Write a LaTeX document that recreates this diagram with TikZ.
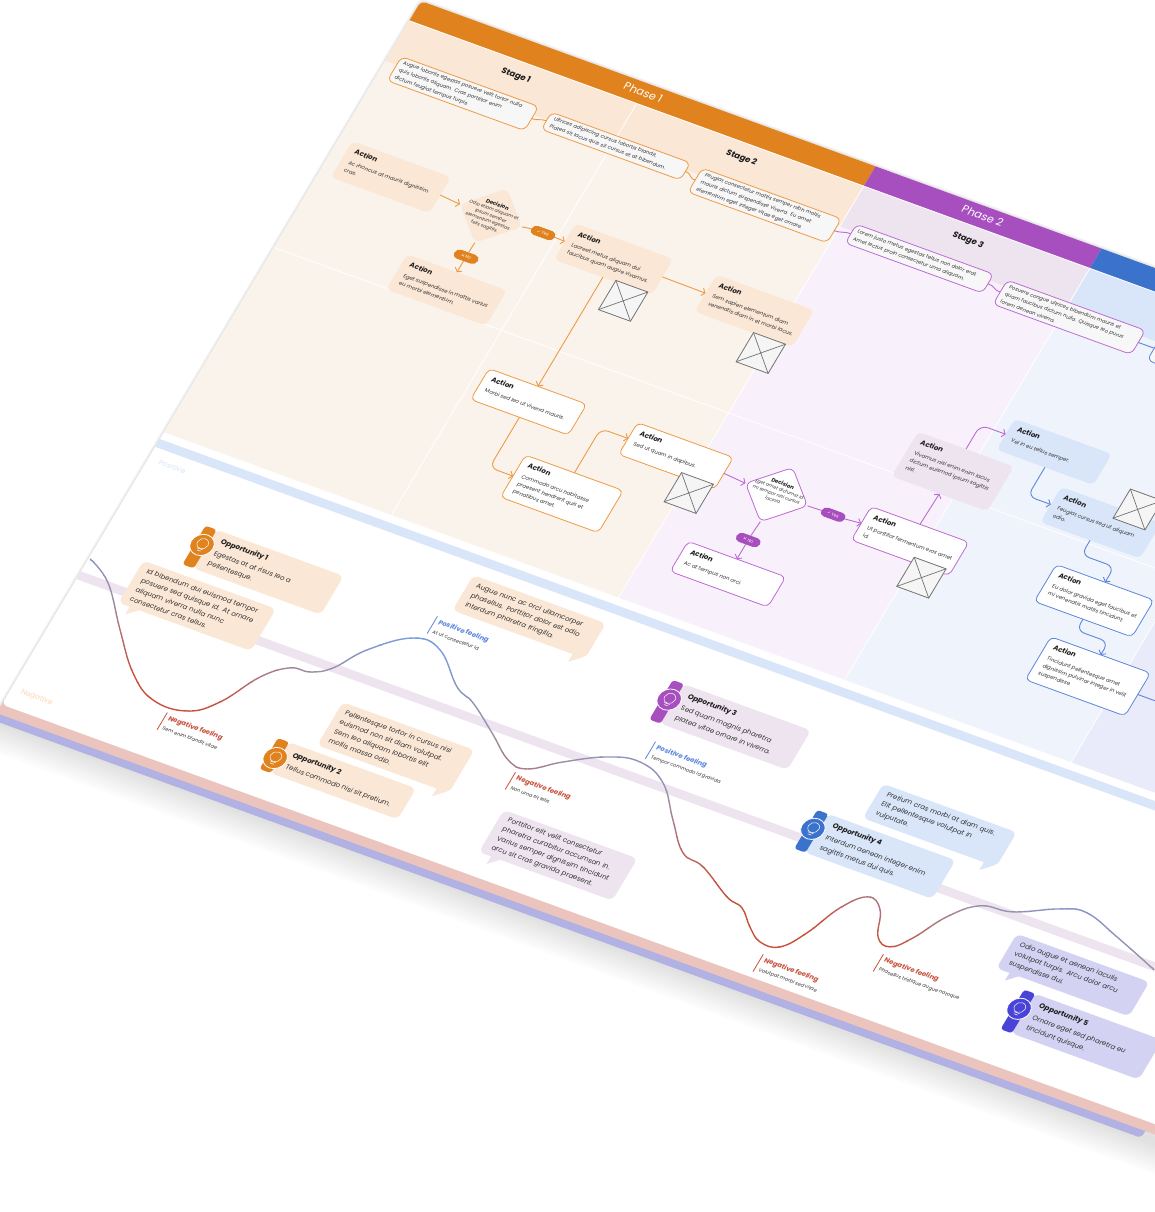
\documentclass[tikz,border=0pt]{standalone}
\usepackage{fontspec}
\setmainfont{Poppins}
\newfontfamily\symfont{DejaVu Sans}
\usetikzlibrary{shapes.geometric,arrows.meta}

\definecolor{orangebar}{HTML}{E0831F}
\definecolor{orangehead}{HTML}{FBE7D5}
\definecolor{orangebody}{HTML}{FAF3EB}
\definecolor{orangeline}{HTML}{EE9A45}
\definecolor{purplebar}{HTML}{A84FC0}
\definecolor{purplehead}{HTML}{EEE4EF}
\definecolor{purplebody}{HTML}{F8F1FC}
\definecolor{purpleline}{HTML}{BC6BD2}
\definecolor{bluebar}{HTML}{3B73CC}
\definecolor{bluehead}{HTML}{D9E5F8}
\definecolor{bluebody}{HTML}{EFF3FB}
\definecolor{blueline}{HTML}{5B86DC}
\definecolor{indigobar}{HTML}{4A43D8}
\definecolor{indigohead}{HTML}{D3D2F3}
\definecolor{indigobody}{HTML}{E9EBFA}
\definecolor{titleink}{HTML}{1E1E1E}
\definecolor{bodyink}{HTML}{333333}
\definecolor{moodblue}{HTML}{7B9BE0}
\definecolor{moodmid}{HTML}{9C90A8}
\definecolor{moodred}{HTML}{C9503C}
\definecolor{edgepink}{HTML}{EBC4BE}
\definecolor{edgeblue}{HTML}{B1B1E3}

\newcommand{\acttext}[3]{\parbox[c][#2pt][t]{#1pt}{\raggedright\rightskip=-20pt plus 1fil{\fontsize{7}{8.5}\selectfont\bfseries\color{titleink} Action\par}\vspace{3.5pt}\fontsize{5.4}{8.5}\selectfont #3}}
\newcommand{\dectext}[1]{\parbox{60pt}{\centering{\fontsize{5.4}{7}\selectfont\bfseries\color{titleink} Decision\par}\fontsize{4.6}{6.2}\selectfont #1}}
\newcommand{\opptext}[2]{\parbox{126pt}{\raggedright\leftskip=6pt\rightskip=-20pt plus 1fil{\fontsize{7.2}{11}\selectfont\bfseries\color{titleink} Opportunity #1\par}\vspace{2pt}\fontsize{6.9}{11.5}\selectfont #2}}
\newcommand{\moodline}[1]{\draw[#1,line width=1.4pt] plot[smooth,tension=.7] coordinates {(1.4,649) (29.7,665.7) (64.7,706.5) (98.4,743.1) (130,762) (165.4,760.7) (189.6,740.6) (211.6,702.7) (233,683.6) (252.7,680.5) (270.7,668.6) (291,639.6) (325,612.2) (354.8,614.2) (389,643.7) (411.3,653.4) (443.5,675.5) (471.6,695.7) (492.9,697.8) (520.7,678.6) (556.5,658.5) (588,651.8) (619,663.8) (647,695.8) (673,723.8) (697.8,730.2) (734.4,750.6) (753.2,755.9) (770,771.3) (786.8,782.2) (806.8,779.9) (823,757.2) (838.9,721.7) (857.7,701.5) (875,709.8) (887.3,736.3) (903,741.6) (918.4,725) (937,693) (960.3,671) (992.2,665.4) (1031.8,646.2) (1057.4,640.6) (1096,653.1) (1145.7,671.7)};}

\tikzset{
    gridline/.style={white, line width=.8pt},
    actfill/.style={rounded corners=5pt, inner xsep=8pt, inner ysep=6pt, outer sep=0pt, fill=#1, text=bodyink},
    actline/.style={actfill=white, draw=#1, line width=.8pt},
    descbox/.style={rounded corners=6pt, outer sep=0pt, fill=white!97!black, draw=#1, line width=.8pt, text width=136pt, align=left, text=bodyink, inner xsep=5pt, inner ysep=0pt, font=\fontsize{5.2}{8.4}\selectfont},
    decfill/.style={diamond, aspect=1, inner sep=0pt, outer sep=0pt, rounded corners=6pt, minimum width=66pt, minimum height=63pt, fill=#1},
    decline/.style={decfill=white, draw=#1, line width=.8pt},
    dectxt/.style={text=bodyink, inner sep=0pt},
    choice/.style={rounded corners=5pt, minimum width=25pt, minimum height=10pt, inner sep=0pt, outer sep=0pt, fill=#1, text=white, font=\fontsize{4.2}{5}\selectfont},
    imgbox/.style={rectangle, fill=white!96!black, draw=black!55, line width=.8pt, minimum size=34pt, inner sep=0pt, outer sep=0pt},
    imgline/.style={draw=black!55, line width=.7pt},
    arr/.style={#1, line width=.9pt, rounded corners=8pt, -{Straight Barb[length=3pt,width=8pt]}},
    lnk/.style={#1, line width=.9pt, rounded corners=8pt},
    bubble/.style={rounded corners=6pt, outer sep=0pt, fill=#1, text=bodyink, text width=124pt, inner xsep=8pt, inner ysep=0pt, align=left, font=\fontsize{6.9}{10.7}\selectfont},
    oppcard/.style={rounded corners=6pt, outer sep=0pt, inner xsep=4pt, inner ysep=0pt, minimum width=136pt, fill=#1, text=bodyink},
    oppbar/.style={rounded corners=3pt, outer sep=0pt, inner sep=0pt, minimum width=12pt, fill=#1},
    oppicon/.style={circle, minimum size=23pt, inner sep=0pt, outer sep=0pt, fill=#1, draw=white, line width=.8pt},
    feelhead/.style={anchor=west, inner sep=0pt, text=#1, font=\fontsize{6.8}{7}\selectfont\bfseries},
    feelsub/.style={anchor=west, inner sep=0pt, text=bodyink, font=\fontsize{5}{6}\selectfont},
}

\begin{document}
\begin{tikzpicture}
\useasboundingbox (0,0) rectangle (1154pt,1212pt);
\fill[white] (0,0) rectangle (1154pt,1212pt);
\begin{scope}[x=1pt,y=-1pt,cm={.94,-.342,.512,.859,(421pt,1211pt)},transform shape]

    % Sheet, edge bands and soft shadow.
    \foreach \s in {1,...,10}
        \fill[black,opacity=.01,rounded corners=6pt] (-0.3*\s,-0.3*\s) rectangle (1320,837+3*\s);
    \fill[edgeblue,rounded corners=4pt] (1,820) rectangle (1222,837);
    \fill[edgepink,rounded corners=4pt] (0,800) rectangle (1320,829);
    \fill[white,rounded corners=5pt] (0,0) rectangle (1320,819);

    % Phase columns.
    \fill[orangebar] [rounded corners=5pt] (0,23) -- (0,0) [sharp corners] -- (483.5,0) -- (483.5,23) -- cycle;
    \foreach \xa/\xb/\pc in {483.5/724/purplebar, 724/965/bluebar, 965/1320/indigobar}
        \fill[\pc] (\xa,0) rectangle (\xb,23);
    \foreach \xa/\xb/\hc/\bc in {0/483.5/orangehead/orangebody, 483.5/724/purplehead/purplebody, 724/965/bluehead/bluebody, 965/1320/indigohead/indigobody} {
        \fill[\hc] (\xa,23) rectangle (\xb,70);
        \fill[\bc] (\xa,70) rectangle (\xb,502);
    }
    \foreach \x in {242,483.5,724,965}
        \draw[gridline] (\x,23) -- (\x,502);
    \draw[gridline] (0,23) -- (1320,23);
    \draw[gridline] (0,287) -- (1320,287);
    \fill[bluehead] (0,510) rectangle (1320,519);
    \fill[purplehead] (0,664) rectangle (1320,673);

    % Below nodes are the headings.
    \node[white,font=\fontsize{11}{12}\selectfont] (phase1) at (242,10) {Phase 1};
    \node[white,font=\fontsize{11}{12}\selectfont] (phase2) at (603,10) {Phase 2};
    \node[titleink,font=\fontsize{8.4}{9}\selectfont\bfseries] (stage1) at (122,39) {Stage 1};
    \node[titleink,font=\fontsize{8.4}{9}\selectfont\bfseries] (stage2) at (362,39) {Stage 2};
    \node[titleink,font=\fontsize{8.4}{9}\selectfont\bfseries] (stage3) at (603,39) {Stage 3};

    % Stage descriptions.
    \node[descbox=orangeline,minimum width=146pt,minimum height=28pt] (desc1) at (85,74) {Augue lobortis egestas posuere velit tortor nulla\\quis lobortis aliquam. Cras porttitor enim\\dictum feugiat tempus turpis.};
    \node[descbox=orangeline,minimum width=148pt,minimum height=20pt] (desc2) at (246,71) {Ultrices adipiscing cursus lobortis blandit.\\Platea sit lacus quis sit cursus et at bibendum.};
    \node[descbox=orangeline,minimum width=148pt,minimum height=28pt] (desc3) at (407,76) {Feugiat consectetur mattis semper nibh mollis\\mauris dictum suspendisse viverra. Eu amet\\elementum eget integer vitae eget ornare.};
    \node[descbox=purpleline,minimum width=146pt,minimum height=22pt] (desc4) at (570,73) {Lorem justo metus egestas tellus non dolor erat.\\Amet lectus proin consectetur urna aliquam.};
    \node[descbox=purpleline,minimum width=147pt,minimum height=28pt] (desc5) at (731.5,77) {Posuere congue ultrices bibendum mauris et\\quam faucibus dictum nulla. Quisque leo purus\\lorem aenean viverra.};
    \node[descbox=blueline,minimum width=148pt,minimum height=28pt] (desc6) at (896,77) {};
    \draw[lnk=orangeline] (desc1.east) .. controls +(7,0) and +(-7,0) .. (desc2.west);
    \draw[lnk=orangeline] (desc2.east) .. controls +(7,0) and +(-7,0) .. (desc3.west);
    \draw[lnk=purpleline] (desc3.east) .. controls +(7,0) and +(-7,0) .. (desc4.west);
    \draw[lnk=purpleline] (desc4.east) .. controls +(7,0) and +(-7,0) .. (desc5.west);
    \draw[lnk=blueline] (desc5.east) .. controls +(7,0) and +(-7,0) .. (desc6.west);

    % Action boxes.
    \node[actfill=orangehead] (act1) at (65.5,179) {\acttext{89}{30}{Ac rhoncus at mauris dignissim\\cras.}};
    \node[actfill=orangehead] (act2) at (173,267.5) {\acttext{90}{29}{Eget suspendisse in mattis varius\\eu morbi elementum.}};
    \node[actfill=orangehead] (act3) at (303,180) {\acttext{88}{30}{Laoreet metus aliquam dui\\faucibus quam augue vivamus.}};
    \node[actfill=orangehead] (act4) at (453,180.5) {\acttext{88}{31}{Sem sapien elementum diam\\venenatis diam in et morbi lacus.}};
    \node[actline=orangeline] (act5) at (303,346) {\acttext{88}{24}{Morbi sed leo ut viverra mauris.}};
    \node[actline=orangeline] (act6) at (380,422.5) {\acttext{88}{37}{Commodo arcu habitasse\\praesent hendrerit quis et\\penatibus amet.}};
    \node[actline=orangeline] (act7) at (460,346.5) {\acttext{86}{25}{Sed ut quam in dapibus.}};
    \node[actline=purpleline] (act8) at (567,441.5) {\acttext{88}{23}{Ac at tempus non orci.}};
    \node[actline=purpleline] (act9) at (709,346.5) {\acttext{88}{27}{Ut porttitor fermentum eros amet\\id.}};
    \node[actfill=purplehead] (act10) at (710,265) {\acttext{86}{40}{Vivamus nisi enim enim lacus\\dictum euismod ipsum sagittis\\nisl.}};
    \node[actfill=bluehead] (act11) at (788.5,211) {\acttext{87}{24}{Vel in eu tellus semper.}};
    \node[actfill=bluehead] (act12) at (866,262.5) {\acttext{90}{29}{Feugiat cursus sed ut aliquam\\odio.}};
    \node[actline=blueline] (act13) at (901,339.5) {\acttext{88}{31}{Eu dolor gravida eget faucibus et\\mi venenatis mattis tincidunt.}};
    \node[actline=blueline] (act14) at (935,414) {\acttext{90}{38}{Tincidunt pellentesque amet\\dignissim pulvinar integer in velit\\suspendisse.}};
    \coordinate (next1) at (1020,414);

    % Image placeholders.
    \foreach \n/\x/\y in {img1/333/216.5, img2/480.5/218.5, img3/490.5/377.5, img4/738/377.5, img5/891.5/237} {
        \node[imgbox] (\n) at (\x,\y) {};
        \draw[imgline] (\n.north west) -- (\n.south east) (\n.north east) -- (\n.south west);
    }

    % Decisions and their answers.
    \node[decfill=orangehead] (dec1) at (173,181) {};
    \node[dectxt] (dec1t) at (dec1) {\dectext{Odio etiam aliquam et\\ipsum semper\\elementum egestas\\felis sagittis.}};
    \node[decline=purpleline] (dec2) at (568,348.5) {};
    \node[dectxt] (dec2t) at (568,345) {\dectext{Eget amet dictumst id\\mi tempor nisi cursus\\lacinia.}};
    \node[choice=orangebar] (yes1) at (227.6,179.5) {{\symfont ✓}\ Yes};
    \node[choice=orangebar] (no1) at (172.7,229) {{\symfont ✕}\ No};
    \node[choice=purplebar] (yes2) at (628,348) {{\symfont ✓}\ Yes};
    \node[choice=purplebar] (no2) at (567,401.8) {{\symfont ✕}\ No};

    % Connectors.
    \draw[arr=orangeline] (act1.east) -- (dec1.west);
    \draw[lnk=orangeline] (dec1.east) -- (yes1.west);
    \draw[arr=orangeline] (yes1.east) -- (act3.west);
    \draw[lnk=orangeline] (dec1.south) -- (no1.north);
    \draw[arr=orangeline] (no1.south) -- (act2.north -| no1.south);
    \draw[arr=orangeline] (act3.east) -- (act4.west);
    \draw[arr=orangeline] (act3.south) -- (act5.north);
    \draw[arr=orangeline] (act5.south) |- (act6.west);
    \draw[arr=orangeline] (act6.north) |- (act7.west);
    \draw[arr=purpleline] (act7.east) -- (dec2.west);
    \draw[lnk=purpleline] (dec2.east) -- (yes2.west);
    \draw[arr=purpleline] (yes2.east) -- (act9.west);
    \draw[lnk=purpleline] (dec2.south) -- (no2.north);
    \draw[arr=purpleline] (no2.south) -- (act8.north -| no2.south);
    \draw[arr=purpleline] (act9.north) -- (act10.south);
    \draw[arr=purpleline] (act10.north) |- (act11.west);
    \draw[arr=blueline] (act11.south) |- (act12.west);
    \draw[arr=blueline] (act12.south) -- ++(0,17) -| (act13.north);
    \draw[arr=blueline] (act13.south) -- ++(0,13) -| (act14.north);
    \draw[lnk=blueline] (act14.east) -- (next1);

    % Mood curve, coloured by its height.
    \foreach \lev in {600,610,...,790} {
        \pgfmathtruncatemacro{\mixa}{max(0,min(100,(670-\lev)*100/60))}
        \pgfmathtruncatemacro{\mixb}{max(0,min(100,(\lev-670)*100/70))}
        \colorlet{moodstep}{moodblue!\mixa!moodmid}
        \colorlet{moodnow}{moodred!\mixb!moodstep}
        \begin{scope}
            \clip (-5,\lev) rectangle (1320,\lev+10.5);
            \moodline{moodnow}
        \end{scope}
    }

    \node[bluehead,font=\fontsize{7.4}{8}\selectfont] (positive) at (25,532) {Positive};
    \node[orangehead!85!orange,font=\fontsize{7.4}{8}\selectfont] (negative) at (27,800) {Negative};

    % Speech bubbles.
    \node[bubble=orangehead,minimum width=141pt,minimum height=49pt] (bub1) at (119.5,656.5) {Id bibendum dui euismod tempor\\posuere sed quisque id. At ornare\\aliquam viverra nulla nunc\\consectetur cras tellus.};
    \fill[orangehead] (bub1.south west) ++(12,-1) -- ++(0,10) -- ++(11,-10) -- cycle;
    \node[bubble=orangehead,minimum width=141pt,minimum height=41pt] (bub2) at (415.5,551.5) {Augue nunc ac orci ullamcorper\\phasellus. Porttitor dolor est odio\\interdum pharetra fringilla.};
    \fill[orangehead] (bub2.south east) ++(-13,-1) -- ++(0,10) -- ++(11,-10) -- cycle;
    \node[bubble=orangehead,minimum width=140pt,minimum height=50pt] (bub3) at (367,723) {Pellentesque tortor in cursus nisi\\euismod non sit diam volutpat.\\Sem leo aliquam lobortis elit\\mollis massa odio.};
    \fill[orangehead] (bub3.south east) ++(-13,-1) -- ++(0,10) -- ++(11,-10) -- cycle;
    \node[bubble=purplehead,minimum width=142pt,minimum height=49pt] (bub4) at (565,769.5) {Porttitor elit velit consectetur\\pharetra curabitur accumsan in.\\Varius semper dignissim tincidunt\\arcu sit cras gravida praesent.};
    \fill[purplehead] (bub4.south west) ++(13,-1) -- ++(0,10) -- ++(11,-10) -- cycle;
    \node[bubble=bluehead,minimum width=142pt,minimum height=40pt] (bub5) at (883,608) {Pretium cras morbi at diam quis.\\Elit pellentesque volutpat in\\vulputate.};
    \fill[bluehead] (bub5.south east) ++(-13,-1) -- ++(0,10) -- ++(11,-10) -- cycle;
    \node[bubble=indigohead,minimum width=141pt,minimum height=40pt] (bub6) at (1077.5,705) {Odio augue et aenean iaculis\\volutpat turpis. Arcu dolor arcu\\suspendisse dui.};
    \fill[indigohead] (bub6.south west) ++(14,-1) -- ++(0,10) -- ++(11,-10) -- cycle;

    % Opportunity cards.
    \node[oppcard=orangehead,minimum height=45pt] (opp1) at (164,599.5) {\opptext{1}{Egestas at at risus leo a\\pellentesque.}};
    \node[oppcard=orangehead,minimum height=36pt] (opp2) at (338,773) {\opptext{2}{Tellus commodo nisi sit pretium.}};
    \node[oppcard=purplehead,minimum height=46pt] (opp3) at (653,585) {\opptext{3}{Sed quam magnis pharetra\\platea vitae ornare in viverra.}};
    \node[oppcard=bluehead,minimum height=45pt] (opp4) at (847,658.5) {\opptext{4}{Interdum aenean integer enim\\sagittis metus dui quis.}};
    \node[oppcard=indigohead,minimum height=46pt] (opp5) at (1121.5,759) {\opptext{5}{Ornare eget sed pharetra eu\\tincidunt quisque.}};
    \foreach \n/\o/\c/\h/\x/\y in {1/opp1/orangebar/45/92/596.6, 2/opp2/orangebar/36/267/775, 3/opp3/purplebar/46/581/582, 4/opp4/bluebar/45/774/655.6, 5/opp5/indigobar/46/1048/756} {
        \node[oppbar=\c,minimum height=\h pt,anchor=east] (bar\n) at ([xshift=1pt]\o.west) {};
        \node[oppicon=\c] (icon\n) at (\x,\y) {};
        \draw[white,line width=.5pt] (\x,\y-1.5) circle (5.5pt);
        \draw[white,line width=.5pt] (\x-3,\y+4.5) -- (\x+3,\y+4.5) (\x-2,\y+6.5) -- (\x+2,\y+6.5);
    }

    % Feeling labels.
    \foreach \n/\x/\y/\c/\tt/\st in {n1/149/769/moodred/Negative feeling/Sem enim blandit vitae, p1/335/583/blueline/Positive feeling/At ut consectetur id, n2/484.5/705/moodred/Negative feeling/Non urna sit felis, p2/591/627/blueline/Positive feeling/Tempor commodo id gravida, n3/796/793/moodred/Negative feeling/Volutpat morbi sed vitae, n4/901/751/moodred/Negative feeling/Phasellus tristique augue natoque} {
        \draw[\c,line width=.8pt] (\x,\y) -- (\x,\y+20);
        \node[feelhead=\c] (feel\n) at (\x+4,\y+5.5) {\tt};
        \node[feelsub] (sub\n) at (\x+4,\y+16.5) {\st};
    }
\end{scope}
\end{tikzpicture}
\end{document}
